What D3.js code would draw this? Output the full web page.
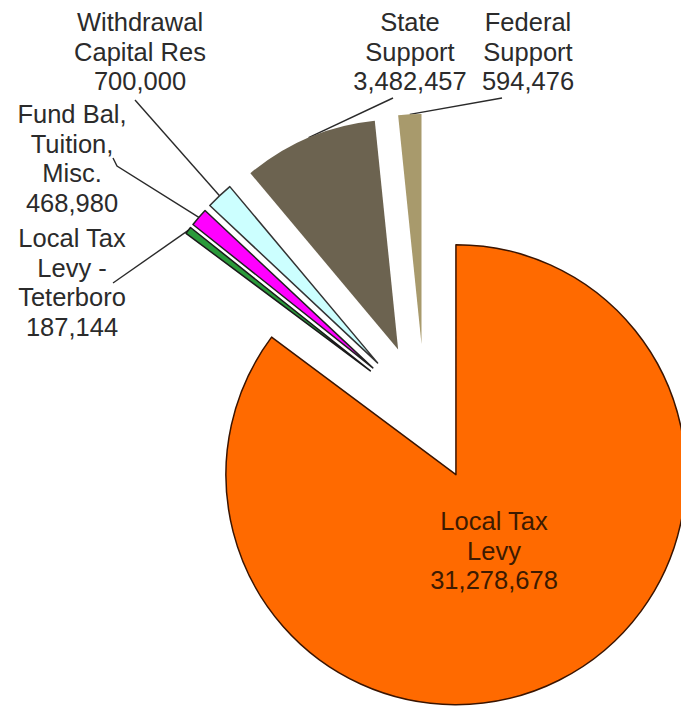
<!DOCTYPE html>
<html>
<head>
<meta charset="utf-8">
<script src="https://cdn.jsdelivr.net/npm/d3@7"></script>
<style>
  body { margin: 0; background: #fff; }
  svg { display: block; }
</style>
</head>
<body>
<div id="chart"></div>
<script>
// revenue sources, clockwise from 12 o'clock
const categories = ["Local Tax Levy", "Local Tax Levy - Teterboro", "Fund Bal, Tuition, Misc.", "Withdrawal Capital Res", "State Support", "Federal Support"];
const values = [31278678, 187144, 468980, 700000, 3482457, 594476];
const labelLines = [
    ["Local Tax", "Levy"],
    ["Local Tax", "Levy -", "Teterboro"],
    ["Fund Bal,", "Tuition,", "Misc."],
    ["Withdrawal", "Capital Res"],
    ["State", "Support"],
    ["Federal", "Support"]
];

const colors = ["#ff6a00", "#2a9a3a", "#ff00ff", "#ccffff", "#6c6350", "#a89a6c"];
const strokes = ["#3a1400", "#1a1a1a", "#222", "#333", "none", "none"];

// where excel put the labels (center x, first baseline) and the start of each leader line
const labelLayout = [
    { x: 494, y: 530, inside: true },
    { x: 72, y: 247, from: [[113, 283]] },
    { x: 72, y: 123, from: [[113, 158], [117, 166]] },
    { x: 140, y: 31, from: [[135, 100]] },
    { x: 410, y: 31, from: [[393, 98]] },
    { x: 528, y: 31, from: [[502, 98]] }
];

const width = 681, height = 710;
const cx = 425, cy = 413;
const radius = 230;
const explode = 69;
const lineHeight = 29.5;

const svg = d3.select("#chart")
    .append("svg")
    .attr("width", width)
    .attr("height", height);

const data = categories.map((c, i) => ({ name: c, value: values[i], i: i }));

const pie = d3.pie().sort(null).value(d => d.value);
const arc = d3.arc().innerRadius(0).outerRadius(radius);
const arcs = pie(data);

const fmt = d3.format(",");

const g = svg.append("g").attr("transform", `translate(${cx}, ${cy})`);

function offset(a, dist) {
    const mid = (a.startAngle + a.endAngle) / 2;
    return [Math.sin(mid) * dist, -Math.cos(mid) * dist];
}

// leader lines (drawn first, slices sit on top)
arcs.forEach(a => {
    const lay = labelLayout[a.data.i];
    if (lay.inside) return;
    const end = offset(a, explode + radius);
    const pts = lay.from.map(p => [p[0] - cx, p[1] - cy]).concat([end]);
    g.append("path")
        .attr("d", d3.line()(pts))
        .attr("fill", "none")
        .attr("stroke", "#2a2a2a")
        .attr("stroke-width", 1.4);
});

g.selectAll("path.slice")
    .data(arcs)
    .enter()
    .append("path")
    .attr("class", "slice")
    .attr("transform", d => `translate(${offset(d, explode)})`)
    .attr("d", arc)
    .attr("fill", d => colors[d.data.i])
    .attr("stroke", d => strokes[d.data.i])
    .attr("stroke-width", 1.5)
    .attr("stroke-linejoin", "round");

// labels
arcs.forEach(a => {
    const lay = labelLayout[a.data.i];
    const lines = labelLines[a.data.i].concat([fmt(a.data.value)]);
    const t = svg.append("text")
        .attr("text-anchor", "middle")
        .attr("font-family", "'Liberation Sans', Arial, sans-serif")
        .attr("font-size", 25.5)
        .attr("fill", lay.inside ? "#3d1a00" : "#2b2b2b");
    lines.forEach((l, k) => {
        t.append("tspan")
            .attr("x", lay.x)
            .attr("y", lay.y + k * lineHeight)
            .text(l);
    });
});
</script>
</body>
</html>
